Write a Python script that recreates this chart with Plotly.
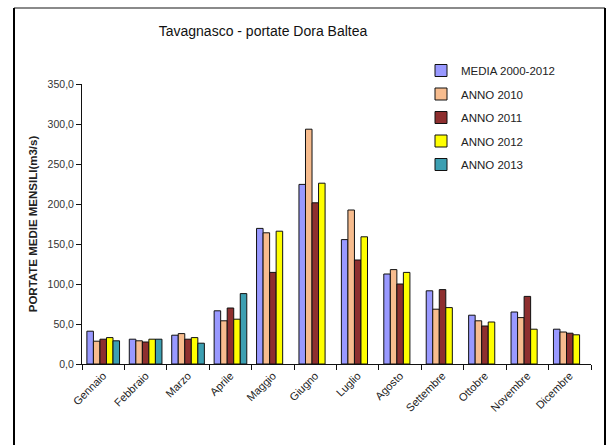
import plotly.graph_objects as go

# Monthly mean flows of the Dora Baltea at Tavagnasco (m3/s)
mesi = ["Gennaio", "Febbraio", "Marzo", "Aprile", "Maggio", "Giugno",
        "Luglio", "Agosto", "Settembre", "Ottobre", "Novembre", "Dicembre"]

media_2000_2012 = [41.0, 31.0, 36.0, 66.5, 169.5, 224.5, 155.5, 112.5, 91.5, 61.0, 65.0, 43.5]
anno_2010 = [28.5, 29.0, 38.0, 54.0, 164.0, 293.5, 192.5, 118.0, 68.5, 54.0, 58.0, 40.0]
anno_2011 = [31.0, 27.5, 31.0, 70.0, 114.5, 201.5, 130.0, 100.0, 93.0, 47.5, 84.5, 38.5]
anno_2012 = [33.0, 31.0, 33.0, 56.0, 166.0, 226.0, 159.0, 114.5, 70.5, 52.5, 43.5, 36.5]
anno_2013 = [29.0, 31.0, 26.0, 88.0, None, None, None, None, None, None, None, None]

serie = [
    ("MEDIA 2000-2012", media_2000_2012, "#9999FF"),
    ("ANNO 2010", anno_2010, "#F7BC8E"),
    ("ANNO 2011", anno_2011, "#8E2F2F"),
    ("ANNO 2012", anno_2012, "#FFFF00"),
    ("ANNO 2013", anno_2013, "#3C9FB2"),
]

FONT = "Arial, Liberation Sans, sans-serif"

fig = go.Figure()
for i, (nome, valori, colore) in enumerate(serie):
    fig.add_trace(go.Bar(
        x=mesi, y=valori, name=nome, legendgroup=f"g{i}",
        marker=dict(color=colore, line=dict(color="#111111", width=1)),
    ))

# outer chart frame
x_left, x_right = (14 - 82) / 509, (605 - 82) / 509
y_top, y_bot = (364 - 8) / 280, (364 - 460) / 280
fig.add_shape(type="line", xref="paper", yref="paper", x0=x_left, x1=x_right,
              y0=y_top, y1=y_top, line=dict(color="#8a8a8a", width=2))
fig.add_shape(type="line", xref="paper", yref="paper", x0=x_left, x1=x_left,
              y0=y_top, y1=y_bot, line=dict(color="#000000", width=2))
fig.add_shape(type="line", xref="paper", yref="paper", x0=x_right, x1=x_right,
              y0=y_top, y1=y_bot, line=dict(color="#000000", width=2))

fig.update_layout(
    width=611, height=445,
    margin=dict(l=82, r=20, t=84, b=81),
    paper_bgcolor="white", plot_bgcolor="white",
    separators=",.",
    barmode="group", bargap=0.23, bargroupgap=0,
    font=dict(family=FONT, color="#222222"),
    title=dict(text="Tavagnasco - portate Dora Baltea", xref="container",
               x=263 / 611, xanchor="center", yref="container",
               y=1 - 31 / 445, yanchor="middle",
               font=dict(size=14, color="#111111", family=FONT)),
    showlegend=True,
    legend=dict(x=(421 - 82) / 509, xanchor="left", y=(364 - 56) / 280,
                yanchor="top", font=dict(size=11.5, color="#222222", family=FONT),
                tracegroupgap=4.5, bgcolor="rgba(0,0,0,0)"),
    xaxis=dict(type="category", showline=True, linecolor="#111111", linewidth=1,
               ticks="outside", tickson="boundaries", ticklen=5,
               tickcolor="#111111", tickangle=-45, showgrid=False,
               tickfont=dict(size=11, color="#222222", family=FONT)),
    yaxis=dict(range=[0, 350], dtick=50, tickformat=".1f", showline=True,
               linecolor="#111111", linewidth=1, ticks="outside", ticklen=5,
               tickcolor="#111111", showgrid=False, zeroline=False,
               tickfont=dict(size=10.5, color="#333333", family=FONT),
               title=dict(text="<b>PORTATE MEDIE MENSILI(m3/s)</b>",
                          font=dict(size=11.5, color="#222222", family=FONT),
                          standoff=7)),
)

fig.write_html("out.html")
